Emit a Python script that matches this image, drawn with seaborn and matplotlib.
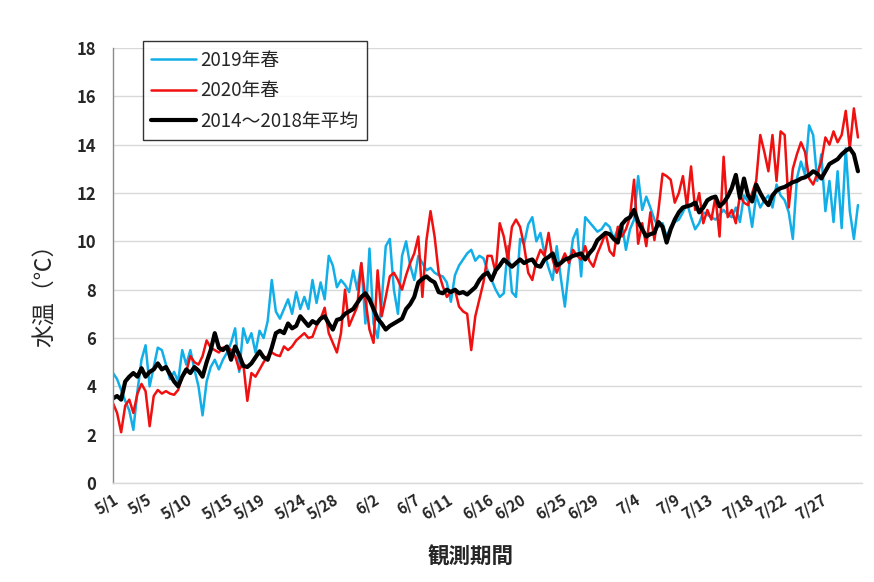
import numpy as np
import pandas as pd
import seaborn as sns
import matplotlib
matplotlib.use("Agg")
import matplotlib.pyplot as plt
from matplotlib.ticker import FixedLocator

# 12-hourly water temperature readings, 5/1 - 7/31
temp_2019 = [
    4.55, 4.3, 3.85, 3.4, 3.0, 2.2, 3.8, 5.1, 5.7, 4.0,
    4.8, 5.6, 5.5, 4.9, 4.3, 4.6, 4.2, 5.5, 4.9, 5.5,
    4.7, 4.0, 2.8, 4.2, 4.8, 5.1, 4.7, 5.1, 5.4, 5.8,
    6.4, 4.6, 6.4, 5.8, 6.2, 5.4, 6.3, 6.0, 6.7, 8.4,
    7.1, 6.8, 7.2, 7.6, 7.0, 7.9, 7.2, 7.7, 7.2, 8.4,
    7.45, 8.3, 7.6, 9.4, 9.0, 8.1, 8.4, 8.2, 7.9, 8.8,
    8.0, 9.1, 6.6, 9.7, 6.6, 6.0, 7.5, 9.8, 10.1, 8.0,
    7.0, 9.4, 10.0, 9.0, 8.4, 9.4, 9.1, 8.8, 8.9, 8.7,
    8.6, 8.55, 8.3, 7.5, 8.6, 9.0, 9.25, 9.5, 9.65, 9.2,
    9.4, 9.3, 8.8, 8.4, 8.0, 7.7, 7.85, 9.8, 7.9, 7.7,
    10.1, 9.9, 10.7, 11.0, 10.0, 10.35, 9.5, 8.9, 8.4, 9.8,
    8.5, 7.3, 8.9, 10.1, 10.5, 8.55, 11.0, 10.8, 10.6, 10.4,
    10.5, 10.75, 10.6, 10.1, 10.5, 10.75, 9.65, 10.5, 10.9, 12.7,
    11.3, 11.85, 11.4, 10.9, 10.6, 10.75, 10.2, 10.6, 10.8, 10.9,
    11.2, 11.6, 11.0, 10.5, 10.75, 11.2, 11.1, 11.0, 10.9, 11.1,
    11.3, 11.1, 11.0, 11.4, 10.8, 11.9, 11.65, 10.6, 11.9, 11.4,
    11.7, 11.9, 11.4, 12.35, 11.9, 11.7, 11.2, 10.1, 12.6, 13.3,
    12.75, 14.8, 14.4, 12.5, 13.6, 11.25, 12.5, 10.8, 12.9, 10.55,
    13.85, 11.25, 10.1, 11.5,
]

temp_2020 = [
    3.3, 2.9, 2.1, 3.2, 3.45, 2.9, 3.7, 4.1, 3.8, 2.35,
    3.6, 3.85, 3.7, 3.8, 3.7, 3.65, 3.85, 4.4, 4.6, 5.25,
    5.0, 4.9, 5.25, 5.9, 5.6, 5.5, 5.4, 5.6, 5.65, 5.5,
    5.25, 4.7, 4.95, 3.4, 4.55, 4.4, 4.7, 5.0, 5.25, 5.4,
    5.3, 5.25, 5.65, 5.5, 5.65, 5.9, 6.05, 6.2, 6.0, 6.05,
    6.5, 6.8, 7.25, 6.2, 5.8, 5.4, 6.2, 8.0, 6.5, 6.9,
    7.3, 9.1, 7.6, 6.35, 5.8, 8.8, 6.9, 7.7, 8.55, 8.7,
    8.4, 8.0, 8.6, 9.1, 9.5, 10.2, 7.7, 10.05, 11.25, 10.2,
    8.7, 8.15, 7.7, 7.9, 8.0, 7.3, 7.1, 7.0, 5.5, 6.9,
    7.6, 8.3, 9.4, 9.4, 8.7, 10.75, 10.2, 9.25, 10.6, 10.9,
    10.6, 9.8, 8.7, 8.4, 9.2, 9.65, 9.4, 10.35, 9.25, 8.7,
    9.1, 9.5, 9.1, 9.65, 9.4, 9.25, 9.8, 9.2, 8.95, 9.5,
    9.9, 10.35, 9.6, 9.4, 10.6, 10.2, 10.5, 11.0, 12.55, 9.9,
    10.75, 9.8, 11.2, 10.05, 11.3, 12.8, 12.7, 12.55, 11.6, 12.0,
    12.7, 11.45, 13.1, 11.3, 12.0, 10.75, 11.3, 10.9, 11.85, 10.2,
    13.5, 11.0, 11.3, 10.75, 11.9, 11.6, 11.5, 12.0, 12.5, 14.4,
    13.7, 12.9, 14.4, 12.5, 14.55, 14.4, 11.4, 13.0, 13.6, 14.1,
    13.7, 12.6, 12.35, 12.8, 13.3, 14.3, 14.0, 14.55, 14.1, 14.4,
    15.4, 13.85, 15.5, 14.3,
]

temp_avg = [
    3.5, 3.6, 3.45, 4.2, 4.4, 4.55, 4.4, 4.75, 4.4, 4.6,
    4.7, 4.95, 4.7, 4.8, 4.5, 4.2, 4.0, 4.4, 4.7, 4.55,
    4.8, 4.65, 4.4, 5.0, 5.5, 6.2, 5.6, 5.5, 5.65, 5.1,
    5.65, 5.3, 4.85, 4.8, 4.95, 5.2, 5.45, 5.2, 5.1, 5.6,
    6.2, 6.3, 6.2, 6.6, 6.4, 6.5, 6.9, 6.7, 6.5, 6.7,
    6.6, 6.8, 6.9, 6.6, 6.35, 6.75, 6.8, 7.0, 7.1, 7.2,
    7.45, 7.7, 7.85, 7.6, 7.2, 6.8, 6.6, 6.35, 6.5, 6.6,
    6.7, 6.8, 7.2, 7.4, 7.7, 8.3, 8.45, 8.55, 8.4, 8.3,
    7.9, 7.85, 8.0, 7.9, 8.0, 7.85, 7.9, 7.8, 7.95, 8.1,
    8.4, 8.6, 8.7, 8.4, 8.8, 9.0, 9.25, 9.1, 8.95, 9.1,
    9.25, 9.1, 9.2, 9.25, 9.0, 8.95, 9.25, 9.35, 9.5, 9.0,
    9.1, 9.25, 9.3, 9.4, 9.45, 9.5, 9.25, 9.5, 9.7, 10.05,
    10.2, 10.35, 10.3, 10.1, 9.95, 10.7, 10.9, 11.0, 11.3, 10.8,
    10.5, 10.2, 10.3, 10.35, 10.8, 10.6, 9.95, 10.5, 10.9, 11.2,
    11.4, 11.45, 11.5, 11.6, 11.2, 11.4, 11.7, 11.8, 11.85, 11.45,
    11.6, 11.85, 12.2, 12.75, 11.8, 12.6, 11.9, 11.65, 12.35, 12.0,
    11.7, 11.5, 11.9, 12.1, 12.2, 12.25, 12.35, 12.45, 12.5, 12.6,
    12.65, 12.75, 12.9, 12.8, 12.6, 12.9, 13.2, 13.3, 13.4, 13.6,
    13.75, 13.85, 13.6, 12.9,
]

date_labels = ["5/1", "5/5", "5/10", "5/15", "5/19", "5/24", "5/28", "6/2", "6/7", "6/11",
               "6/16", "6/20", "6/25", "6/29", "7/4", "7/9", "7/13", "7/18", "7/22", "7/27"]
label_days = [0, 4, 9, 14, 18, 23, 27, 32, 37, 41, 46, 50, 55, 59, 64, 69, 73, 78, 82, 87]

days = np.arange(len(temp_avg)) / 2.0
df = pd.DataFrame({"day": days, "2019年春": temp_2019,
                   "2020年春": temp_2020, "2014～2018年平均": temp_avg})

sns.set_theme(style="white")
plt.rcParams["font.family"] = ["Noto Sans CJK JP", "DejaVu Sans"]

fig = plt.figure(figsize=(8.74, 5.82), dpi=100)
ax = fig.add_axes([0.1293, 0.1701, 0.857, 0.7474])

sns.lineplot(data=df, x="day", y="2019年春", ax=ax, color="#12aee8", linewidth=1.8, label="2019年春")
sns.lineplot(data=df, x="day", y="2020年春", ax=ax, color="#f01010", linewidth=1.8, label="2020年春")
sns.lineplot(data=df, x="day", y="2014～2018年平均", ax=ax, color="black", linewidth=3.0,
             label="2014～2018年平均")

ax.set_xlim(0, 92)
ax.set_ylim(0, 18)
ax.set_yticks(range(0, 19, 2))
ax.yaxis.grid(True, color="#d9d9d9", linewidth=1)
ax.xaxis.grid(False)

for s in ["top", "right"]:
    ax.spines[s].set_visible(False)
ax.spines["left"].set_color("#8c8c8c")
ax.spines["left"].set_linewidth(1)
ax.spines["bottom"].set_color("#d9d9d9")
ax.spines["bottom"].set_linewidth(1)

ax.xaxis.set_major_locator(FixedLocator(label_days))
ax.set_xticklabels(date_labels, rotation=32, ha="right", rotation_mode="anchor",
                   fontsize=11, fontweight="bold")
ax.xaxis.set_minor_locator(FixedLocator(np.arange(0, 89, 4)))
ax.tick_params(axis="x", which="major", length=0, pad=6)
ax.tick_params(axis="x", which="minor", length=8, direction="inout", color="#d9d9d9", width=1)
ax.tick_params(axis="y", length=0, pad=12)
for t in ax.get_yticklabels():
    t.set_fontweight("bold")
    t.set_fontsize(12)

ax.set_xlabel("観測期間", fontsize=15.5, fontweight="bold")
ax.xaxis.set_label_coords(0.477, -0.145)
ax.set_ylabel("水温（℃）", fontsize=16.5)
ax.yaxis.set_label_coords(-0.076, 0.444)

leg = ax.legend(loc="upper left", bbox_to_anchor=(0.04, 1.015), fontsize=13.5,
                frameon=True, fancybox=False, handlelength=2.4, handletextpad=0.2,
                borderpad=0.45, labelspacing=0.5, borderaxespad=0)
leg.get_frame().set_edgecolor("black")
leg.get_frame().set_linewidth(1)

fig.savefig("out.png", dpi=100)
